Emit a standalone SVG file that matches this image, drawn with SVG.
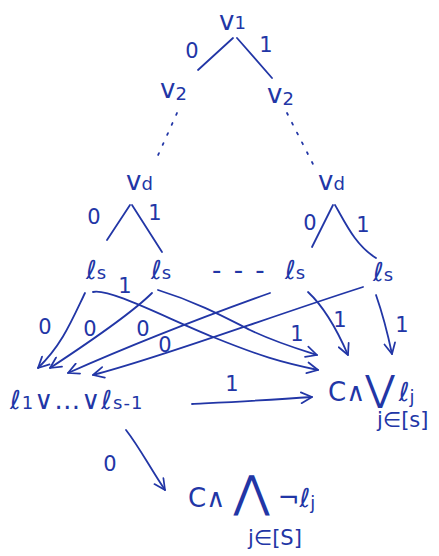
<svg xmlns="http://www.w3.org/2000/svg" width="439" height="556" viewBox="0 0 439 556">
<style>
.t{font-family:"DejaVu Sans","Liberation Sans",sans-serif;fill:#2236a6;font-size:26px}
.s{font-size:18px}
.l{font-family:"DejaVu Sans","Liberation Sans",sans-serif;fill:#2236a6;font-size:21px}
.e{fill:none;stroke:#2236a6;stroke-width:1.8;stroke-linecap:round;stroke-linejoin:round}
.d{fill:none;stroke:#2236a6;stroke-width:1.8;stroke-linecap:round;stroke-dasharray:2 9}
</style>
<defs>
<marker id="ah" viewBox="0 0 12 12" refX="11" refY="6" markerWidth="13" markerHeight="13" orient="auto" markerUnits="userSpaceOnUse">
<path d="M1,1 L11,6 L1,11" fill="none" stroke="#2236a6" stroke-width="1.6" stroke-linecap="round" stroke-linejoin="round"/>
</marker>
</defs>
<rect width="439" height="556" fill="#fff"/>
<g id="connectors">
<path class="e" d="M233,38 L198,70"/>
<path class="e" d="M237,38 L272,78"/>
<path class="d" d="M177,113 L155,162"/>
<path class="d" d="M287,113 L314,166"/>
<path class="e" d="M130,205 L107,240"/>
<path class="e" d="M132,205 L162,252"/>
<path class="e" d="M333,205 L312,247"/>
<path class="e" d="M335,205 C345,222 355,245 376,258"/>
<path class="e" marker-end="url(#ah)" d="M85,293 C72,320 62,345 38,368"/>
<path class="e" marker-end="url(#ah)" d="M152,293 C130,315 85,345 50,368"/>
<path class="e" marker-end="url(#ah)" d="M270,293 C200,318 120,350 68,373"/>
<path class="e" marker-end="url(#ah)" d="M363,287 C260,320 160,358 93,375"/>
<path class="e" marker-end="url(#ah)" d="M93,292 C110,288 170,320 213,337 C260,356 280,362 318,370"/>
<path class="e" marker-end="url(#ah)" d="M158,290 C200,303 230,320 250,330 C275,342 295,348 317,355"/>
<path class="e" marker-end="url(#ah)" d="M308,292 C322,305 335,325 348,355"/>
<path class="e" marker-end="url(#ah)" d="M376,295 C383,315 388,335 392,354"/>
<path class="e" marker-end="url(#ah)" d="M192,404 C230,402 270,400 312,397"/>
<path class="e" marker-end="url(#ah)" d="M126,430 C140,448 150,468 165,490"/>
</g>
<g id="edge-labels">
<text class="l" x="192" y="58" text-anchor="middle">0</text>
<text class="l" x="266" y="52" text-anchor="middle">1</text>
<text class="l" x="94" y="224" text-anchor="middle">0</text>
<text class="l" x="155" y="220" text-anchor="middle">1</text>
<text class="l" x="310" y="230" text-anchor="middle">0</text>
<text class="l" x="363" y="232" text-anchor="middle">1</text>
<text class="l" x="45" y="334" text-anchor="middle">0</text>
<text class="l" x="90" y="336" text-anchor="middle">0</text>
<text class="l" x="143" y="336" text-anchor="middle">0</text>
<text class="l" x="165" y="352" text-anchor="middle">0</text>
<text class="l" x="125" y="293" text-anchor="middle">1</text>
<text class="l" x="297" y="341" text-anchor="middle">1</text>
<text class="l" x="340" y="327" text-anchor="middle">1</text>
<text class="l" x="402" y="332" text-anchor="middle">1</text>
<text class="l" x="232" y="391" text-anchor="middle">1</text>
<text class="l" x="110" y="471" text-anchor="middle">0</text>
</g>
<g id="v1"><text class="t" x="219" y="30">v<tspan class="s" dy="-1">1</tspan></text></g>
<g id="v2-left"><text class="t" x="160" y="98">v<tspan class="s" dy="2">2</tspan></text></g>
<g id="v2-right"><text class="t" x="267" y="103">v<tspan class="s" dy="2">2</tspan></text></g>
<g id="vd-left"><text class="t" x="126" y="190">v<tspan class="s">d</tspan></text></g>
<g id="vd-right"><text class="t" x="318" y="190">v<tspan class="s">d</tspan></text></g>
<g id="ls-1"><text class="t" x="86" y="279">ℓ<tspan class="s">s</tspan></text></g>
<g id="ls-2"><text class="t" x="151" y="279">ℓ<tspan class="s">s</tspan></text></g>
<g id="dots"><text class="t" x="212" y="279" letter-spacing="2">- - -</text></g>
<g id="ls-3"><text class="t" x="285" y="279">ℓ<tspan class="s">s</tspan></text></g>
<g id="ls-4"><text class="t" x="373" y="281">ℓ<tspan class="s">s</tspan></text></g>
<g id="clause"><text class="t" x="10" y="409" font-size="28" letter-spacing="1">ℓ<tspan class="s">1</tspan>∨…∨ℓ<tspan class="s" font-size="22">s-1</tspan></text></g>
<g id="c-or"><text class="t" x="328" y="401" font-size="30">C∧<tspan font-size="36">⋁</tspan><tspan dx="4">ℓ</tspan><tspan class="s" dy="2">j</tspan></text><text class="l" x="377" y="427" font-size="18">j∈[s]</text></g>
<g id="c-and"><text class="t" x="188" y="507" font-size="30">C∧ <tspan font-size="44">⋀</tspan> ¬ℓ<tspan class="s" dy="2">j</tspan></text><text class="l" x="248" y="545" font-size="18">j∈[S]</text></g>
</svg>
